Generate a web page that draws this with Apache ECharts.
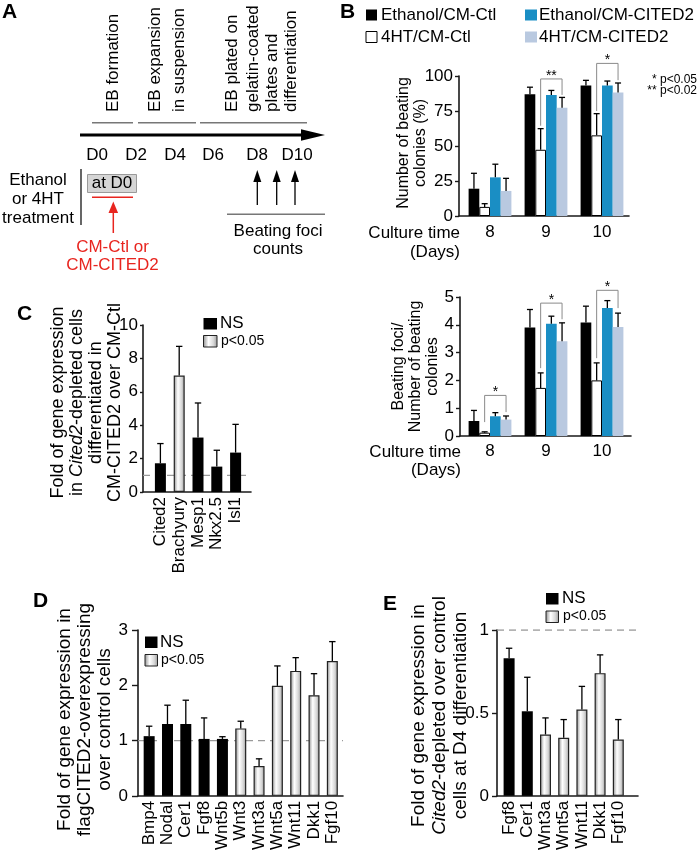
<!DOCTYPE html>
<html><head><meta charset="utf-8">
<script src="https://cdn.jsdelivr.net/npm/echarts@6/dist/echarts.min.js"></script>
<style>html,body{margin:0;padding:0;background:#fff}#c{width:698px;height:853px}</style>
</head><body><div id="c"></div>
<script>
// ---------------- DATA ----------------
const dayCategories = ['8', '9', '10'];
const groupNames = ['Ethanol/CM-Ctl', '4HT/CM-Ctl', 'Ethanol/CM-CITED2', '4HT/CM-CITED2'];

// Panel B (top): number of beating colonies (%)
const pctEthanolCtl      = [19.5, 87.0, 93.3];
const pctEthanolCtlErr   = [30.5, 92.0, 96.9];
const pct4HTCtl          = [6.5, 47.3, 57.6];
const pct4HTCtlErr       = [8.8, 62.4, 73.1];
const pctEthanolCited    = [27.6, 86.5, 93.3];
const pctEthanolCitedErr = [37.0, 89.7, 96.4];
const pct4HTCited        = [17.9, 77.4, 88.3];
const pct4HTCitedErr     = [26.9, 84.7, 95.0];
// significance brackets: [day index, bracket level, left end, right end]
const pctBrackets = [[1, 97.9, 64.5, 86.5], [2, 109.0, 75.0, 97.0]];
const pctBracketLabels = ['**', '*'];

// Panel B (bottom): beating foci / number of beating colonies
const fociEthanolCtl      = [0.54, 3.90, 4.08];
const fociEthanolCtlErr   = [0.92, 4.55, 4.67];
const foci4HTCtl          = [0.12, 1.73, 2.00];
const foci4HTCtlErr       = [0.15, 2.27, 2.63];
const fociEthanolCited    = [0.71, 4.04, 4.60];
const fociEthanolCitedErr = [0.84, 4.31, 4.87];
const foci4HTCited        = [0.59, 3.41, 3.92];
const foci4HTCitedErr     = [0.72, 4.07, 4.42];
const fociBrackets = [[0, 1.46, 0.50, 0.86], [1, 4.78, 2.44, 4.20], [2, 5.24, 2.80, 4.60]];
const fociBracketLabels = ['*', '*', '*'];

// Panel C
const cGenes = ['Cited2', 'Brachyury', 'Mesp1', 'Nkx2.5', 'Isl1'];
const cFold = [1.72, 6.97, 3.26, 1.52, 2.36];
const cFoldErr = [2.90, 8.72, 5.33, 2.50, 4.05];
const cSignificant = [0, 1, 0, 0, 0];

// Panel D
const dGenes = ['Bmp4', 'Nodal', 'Cer1', 'Fgf8', 'Wnt5b', 'Wnt3', 'Wnt3a', 'Wnt5a', 'Wnt11', 'Dkk1', 'Fgf10'];
const dFold = [1.08, 1.30, 1.30, 1.03, 1.03, 1.22, 0.54, 1.99, 2.26, 1.82, 2.44];
const dFoldErr = [1.26, 1.64, 1.73, 1.41, 1.07, 1.35, 0.67, 2.35, 2.50, 2.21, 2.79];
const dSignificant = [0, 0, 0, 0, 0, 1, 1, 1, 1, 1, 1];

// Panel E
const eGenes = ['Fgf8', 'Cer1', 'Wnt3a', 'Wnt5a', 'Wnt11', 'Dkk1', 'Fgf10'];
const eFold = [0.83, 0.51, 0.37, 0.35, 0.52, 0.74, 0.34];
const eFoldErr = [0.89, 0.715, 0.47, 0.46, 0.66, 0.85, 0.46];
const eSignificant = [0, 0, 1, 1, 1, 1, 1];

const referenceLevel = 1;

// ---------------- STYLE ----------------
const FONT = '"Liberation Sans", Arial, Helvetica, sans-serif';
const BLUE = '#1a8ec4';
const LIGHTBLUE = '#b9c9e0';
const RED = '#e8251f';
const AX = '#1a1a1a';
function grad() {
  return {type: 'linear', x: 0, y: 0, x2: 1, y2: 0, colorStops: [
    {offset: 0, color: '#8c8c8c'}, {offset: 0.38, color: '#ffffff'},
    {offset: 0.72, color: '#d8d8d8'}, {offset: 1, color: '#9a9a9a'}]};
}

const grids = [], xAxes = [], yAxes = [], series = [];

function addPanel(p) {
  const fi = grids.length;
  grids.push({left: p.left, top: p.top, width: p.width, height: p.height});
  grids.push({left: p.barLeft, top: p.top, width: p.barSpan, height: p.height});
  const bi = fi + 1;
  xAxes.push({gridIndex: fi, type: 'value', min: 0, max: 1,
    axisLine: {show: true, onZero: false, lineStyle: {color: AX, width: 1.6}},
    axisTick: {show: false}, axisLabel: {show: false}, splitLine: {show: false}});
  xAxes.push({gridIndex: bi, type: 'category', data: p.categories,
    axisLine: {show: false}, axisTick: {show: false},
    axisLabel: {interval: 0, rotate: p.rotate || 0, margin: p.labelMargin, fontSize: 17, color: '#000', fontFamily: FONT}});
  yAxes.push({gridIndex: fi, type: 'value', min: p.min, max: p.max, interval: p.interval,
    axisLine: {show: true, onZero: false, lineStyle: {color: AX, width: 1.6}},
    axisTick: {show: true, length: p.tickLen, lineStyle: {color: AX, width: 1.4}},
    axisLabel: {fontSize: 17, margin: p.tickMargin, color: '#000', fontFamily: FONT},
    splitLine: {show: false},
    name: p.name, nameLocation: 'middle', nameRotate: 90, nameGap: p.nameGap, nameMoveOverlap: false,
    nameTextStyle: {fontSize: p.nameSize, lineHeight: p.nameLH, fontFamily: FONT, color: '#000',
      padding: p.namePad || 0,
      rich: {i: {fontStyle: 'italic', fontSize: p.nameSize, lineHeight: p.nameLH, fontFamily: FONT, color: '#000'}}}});
  yAxes.push({gridIndex: bi, type: 'value', min: p.min, max: p.max, show: false});
  return {fx: xAxes.length - 2, bx: xAxes.length - 1, fy: yAxes.length - 2, by: yAxes.length - 1};
}

function errRender(offset, cap) {
  return function (params, api) {
    const c = api.value(0);
    const p0 = api.coord([c, api.value(1)]);
    const p1 = api.coord([c, api.value(2)]);
    const x = p0[0] + offset;
    return {type: 'group', children: [
      {type: 'line', shape: {x1: x, y1: p0[1], x2: x, y2: p1[1]}, style: {stroke: '#000', lineWidth: 1.3}},
      {type: 'line', shape: {x1: x - cap, y1: p1[1], x2: x + cap, y2: p1[1]}, style: {stroke: '#000', lineWidth: 1.3}}
    ]};
  };
}

function addErrors(ax, values, errs, offset, cap) {
  series.push({type: 'custom', xAxisIndex: ax.bx, yAxisIndex: ax.by, silent: true, z: 5,
    data: values.map((v, i) => [i, v, errs[i]]), renderItem: errRender(offset, cap)});
}

// Grouped panel B charts
const BW = 10.7;
function addGrouped(ax, valueSets, errSets, brackets, labels) {
  const colors = ['#000', '#fff', BLUE, LIGHTBLUE];
  valueSets.forEach((vals, k) => {
    series.push({type: 'bar', name: groupNames[k], xAxisIndex: ax.bx, yAxisIndex: ax.by,
      data: vals, barWidth: BW, barGap: '0%',
      itemStyle: {color: colors[k], borderColor: k === 1 ? '#000' : colors[k], borderWidth: k === 1 ? 1 : 0}});
  });
  valueSets.forEach((vals, k) => addErrors(ax, vals, errSets[k], (k - 1.5) * BW, 3));
  series.push({type: 'custom', xAxisIndex: ax.bx, yAxisIndex: ax.by, silent: true, z: 6,
    data: brackets,
    renderItem: function (params, api) {
      const g = api.value(0);
      const top = api.coord([g, api.value(1)]);
      const yl = api.coord([g, api.value(2)])[1];
      const yr = api.coord([g, api.value(3)])[1];
      const xl = top[0] - 0.5 * BW, xr = top[0] + 1.5 * BW;
      return {type: 'group', children: [
        {type: 'polyline', shape: {points: [[xl, yl], [xl, top[1]], [xr, top[1]], [xr, yr]]},
          style: {stroke: '#8a8a8a', lineWidth: 1, fill: null}},
        {type: 'text', style: {text: labels[params.dataIndex], x: (xl + xr) / 2, y: top[1] - 3,
          align: 'center', verticalAlign: 'middle', fontSize: 14, fontFamily: FONT, fill: '#000'}}
      ]};
    }});
}

function addSimple(ax, values, errs, sig) {
  series.push({type: 'bar', name: 'NS', xAxisIndex: ax.bx, yAxisIndex: ax.by, barWidth: 11, barGap: '-100%',
    data: values.map((v, i) => sig[i] ? '-' : v), itemStyle: {color: '#000'}});
  series.push({type: 'bar', name: 'p<0.05', xAxisIndex: ax.bx, yAxisIndex: ax.by, barWidth: 11, barGap: '-100%',
    data: values.map((v, i) => sig[i] ? v : '-'), itemStyle: {color: grad(), borderColor: '#222', borderWidth: 1.2}});
  addErrors(ax, values, errs, 0, 3.2);
  series.push({type: 'line', xAxisIndex: ax.fx, yAxisIndex: ax.fy, silent: true, z: 1, symbol: 'none',
    data: [[0, referenceLevel], [1, referenceLevel]],
    lineStyle: {type: [7, 5], color: '#9a9a9a', width: 1.3}});
}

// ---- B top
const axBT = addPanel({left: 459, top: 76, width: 170, height: 140, barLeft: 462, barSpan: 168,
  categories: dayCategories, labelMargin: 8, min: 0, max: 100, interval: 25, tickLen: 4, tickMargin: 6,
  name: 'Number of beating\ncolonies (%)', nameGap: 30, nameSize: 16, nameLH: 17, namePad: [0, 0, 0, 6]});
addGrouped(axBT, [pctEthanolCtl, pct4HTCtl, pctEthanolCited, pct4HTCited],
  [pctEthanolCtlErr, pct4HTCtlErr, pctEthanolCitedErr, pct4HTCitedErr], pctBrackets, pctBracketLabels);

// ---- B bottom
const axBB = addPanel({left: 460, top: 297, width: 171, height: 139, barLeft: 462, barSpan: 168,
  categories: dayCategories, labelMargin: 7, min: 0, max: 5, interval: 1, tickLen: 4, tickMargin: 6,
  name: 'Beating foci/\nNumber of beating\ncolonies', nameGap: 19, nameSize: 16, nameLH: 17});
addGrouped(axBB, [fociEthanolCtl, foci4HTCtl, fociEthanolCited, foci4HTCited],
  [fociEthanolCtlErr, foci4HTCtlErr, fociEthanolCitedErr, foci4HTCitedErr], fociBrackets, fociBracketLabels);

// ---- C
const axC = addPanel({left: 143, top: 325, width: 108, height: 167, barLeft: 151, barSpan: 94,
  categories: cGenes, rotate: 90, labelMargin: 5, min: 0, max: 10, interval: 2, tickLen: 3, tickMargin: 5,
  name: 'Fold of gene expression\nin {i|Cited2}-depleted cells\ndifferentiated in\nCM-CITED2 over CM-Ctl',
  nameGap: 18.5, nameSize: 18, nameLH: 19, namePad: [0, 0, 0, 12]});
addSimple(axC, cFold, cFoldErr, cSignificant);

// ---- D
const axD = addPanel({left: 138, top: 630, width: 205, height: 166, barLeft: 140, barSpan: 201.5,
  categories: dGenes, rotate: 90, labelMargin: 5, min: 0, max: 3, interval: 1, tickLen: 6, tickMargin: 10,
  name: 'Fold of gene expression in\nflagCITED2-overexpressing\nover control cells',
  nameGap: 23, nameSize: 19, nameLH: 20, namePad: [0, 13, 0, 0]});
addSimple(axD, dFold, dFoldErr, dSignificant);

// ---- E
const axE = addPanel({left: 497, top: 630, width: 141, height: 166, barLeft: 500, barSpan: 127.4,
  categories: eGenes, rotate: 90, labelMargin: 5, min: 0, max: 1, interval: 0.5, tickLen: 5, tickMargin: 8,
  name: 'Fold of gene expression in\n{i|Cited2}-depleted over control\ncells at D4 differentiation',
  nameGap: 26, nameSize: 19, nameLH: 21, namePad: [0, 5, 0, 0]});
addSimple(axE, eFold, eFoldErr, eSignificant);

// ---------------- GRAPHIC (diagram A, legends, labels) ----------------
function T(x, y, text, o) {
  o = o || {};
  return {type: 'text', x: x, y: y, rotation: o.rot || 0, silent: true, z: 10,
    style: {text: text, fill: o.fill || '#000', fontSize: o.size || 17, fontFamily: FONT,
      fontWeight: o.weight || 'normal', align: o.align || 'center', verticalAlign: o.va || 'middle'}};
}
function L(x1, y1, x2, y2, color, w) {
  return {type: 'line', silent: true, z: 10, shape: {x1: x1, y1: y1, x2: x2, y2: y2}, style: {stroke: color, lineWidth: w}};
}
function P(points, color) {
  return {type: 'polygon', silent: true, z: 10, shape: {points: points}, style: {fill: color}};
}
function R(x, y, w, h, fill, stroke, lw) {
  return {type: 'rect', silent: true, z: 10, shape: {x: x, y: y, width: w, height: h},
    style: {fill: fill, stroke: stroke || null, lineWidth: lw || 0}};
}
function gradFill() {
  return new echarts.graphic.LinearGradient(0, 0, 1, 0, [
    {offset: 0, color: '#8c8c8c'}, {offset: 0.38, color: '#ffffff'},
    {offset: 0.72, color: '#d8d8d8'}, {offset: 1, color: '#9a9a9a'}]);
}
const UP = Math.PI / 2;
const graphics = [
  // panel letters
  T(2, 12, 'A', {size: 21, weight: 'bold', align: 'left'}),
  T(340, 12, 'B', {size: 21, weight: 'bold', align: 'left'}),
  T(17, 314, 'C', {size: 21, weight: 'bold', align: 'left'}),
  T(33, 601, 'D', {size: 21, weight: 'bold', align: 'left'}),
  T(383, 604, 'E', {size: 21, weight: 'bold', align: 'left'}),

  // ---- Panel A diagram
  T(113, 112, 'EB formation', {rot: UP, align: 'left'}),
  T(155, 112, 'EB expansion', {rot: UP, align: 'left'}),
  T(179, 112, 'in suspension', {rot: UP, align: 'left'}),
  T(232, 112, 'EB plated on', {rot: UP, align: 'left'}),
  T(253, 112, 'gelatin-coated', {rot: UP, align: 'left'}),
  T(272, 112, 'plates and', {rot: UP, align: 'left'}),
  T(291, 112, 'differentiation', {rot: UP, align: 'left'}),
  L(92, 122.7, 133, 122.7, '#777', 1.5),
  L(138, 122.7, 196, 122.7, '#777', 1.5),
  L(200, 122.7, 307, 122.7, '#777', 1.5),
  L(80, 135, 306, 135, '#000', 3),
  P([[301, 129.3], [325, 135], [301, 140.7]], '#000'),
  T(97, 155, 'D0'), T(136, 155, 'D2'), T(175, 155, 'D4'),
  T(213, 155, 'D6'), T(257, 155, 'D8'), T(297, 155, 'D10'),
  T(38, 180, 'Ethanol'), T(38, 199.5, 'or 4HT'), T(38, 218.5, 'treatment'),
  L(81, 169, 81, 225, '#000', 1.2),
  R(87.5, 174.5, 49, 18, '#d5d5d5', '#9a9a9a', 1),
  T(112, 183.5, 'at D0'),
  L(92, 197.3, 133, 197.3, RED, 1.5),
  L(113.3, 233, 113.3, 211, RED, 1.5),
  P([[108.5, 213], [113.3, 201.5], [118.1, 213]], RED),
  T(112.5, 247.5, 'CM-Ctl or', {fill: RED}),
  T(112.5, 265.5, 'CM-CITED2', {fill: RED}),
  L(257.3, 205, 257.3, 180, '#000', 1.3), P([[253.3, 182], [257.3, 170], [261.3, 182]], '#000'),
  L(276.7, 205, 276.7, 180, '#000', 1.3), P([[272.7, 182], [276.7, 170], [280.7, 182]], '#000'),
  L(295, 205, 295, 180, '#000', 1.3), P([[291, 182], [295, 170], [299, 182]], '#000'),
  L(227, 214.3, 325, 214.3, '#777', 1.5),
  T(278, 231, 'Beating foci'), T(278, 249, 'counts'),

  // ---- Panel B legend & labels
  R(366, 9.5, 11, 11, '#000'), T(381, 15, groupNames[0], {size: 17, align: 'left'}),
  R(366, 31.5, 11, 11, '#fff', '#000', 1), T(381, 37, groupNames[1], {size: 17, align: 'left'}),
  R(525, 9.5, 12, 11, BLUE), T(539, 15, groupNames[2], {size: 17, align: 'left'}),
  R(525, 31.5, 12, 11, LIGHTBLUE), T(539, 37, groupNames[3], {size: 17, align: 'left'}),
  T(697, 80, '* p<0.05', {size: 12, align: 'right'}),
  T(697, 91, '** p<0.02', {size: 12, align: 'right'}),
  T(460, 233, 'Culture time', {align: 'right'}), T(460, 252, '(Days)', {align: 'right'}),
  T(461, 452, 'Culture time', {align: 'right'}), T(461, 470.5, '(Days)', {align: 'right'}),

  // ---- Legends C, D, E
  R(203.5, 318, 13.5, 11.5, '#000'), T(220, 323.5, 'NS', {size: 17, align: 'left'}),
  R(203.5, 335.5, 13.5, 11.5, gradFill(), '#222', 1), T(221, 341, 'p<0.05', {size: 14, align: 'left'}),
  R(145, 636.5, 12.5, 11.5, '#000'), T(160, 642, 'NS', {size: 17, align: 'left'}),
  R(145, 654.5, 12.5, 11.5, gradFill(), '#222', 1), T(161, 660, 'p<0.05', {size: 14, align: 'left'}),
  R(546, 593, 12.5, 11.5, '#000'), T(562, 598.5, 'NS', {size: 17, align: 'left'}),
  R(546, 611, 12.5, 11.5, gradFill(), '#222', 1), T(563, 616.5, 'p<0.05', {size: 14, align: 'left'})
];

const chart = echarts.init(document.getElementById('c'));
chart.setOption({
  animation: false,
  backgroundColor: '#fff',
  textStyle: {fontFamily: FONT},
  grid: grids,
  xAxis: xAxes,
  yAxis: yAxes,
  series: series,
  graphic: graphics
});
</script></body></html>
